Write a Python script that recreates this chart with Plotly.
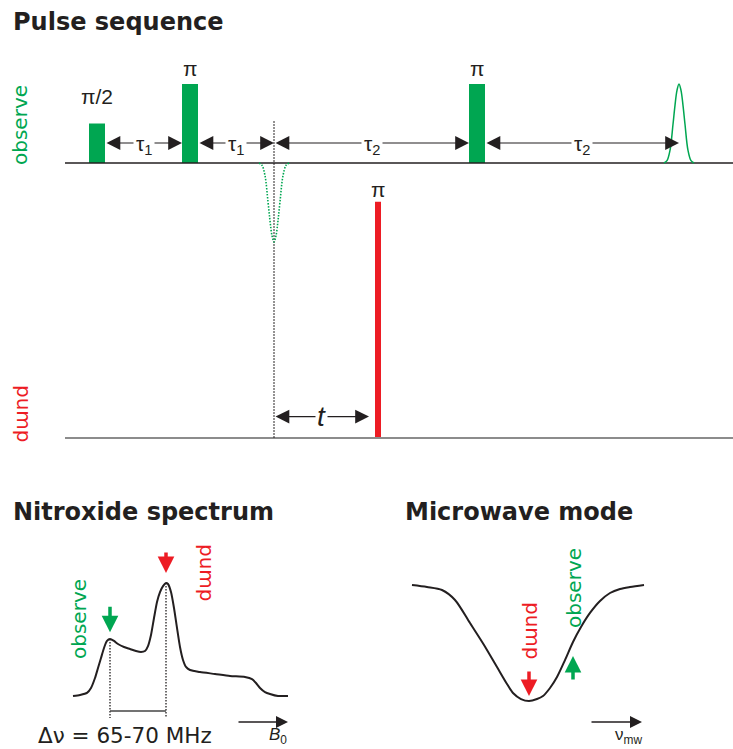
import plotly.graph_objects as go

W, H = 733, 749

GREEN = "#00A651"
RED = "#ED1C24"
INK = "#231F20"
GREY = "#8C8C8C"

# ---------------- Pulse sequence ----------------
# time in arbitrary units from the centre of the pi/2 pulse,
# amplitude in units of the observer pi pulse
obs_pulse_labels = ["π/2", "π", "π"]
obs_pulse_times = [0, 93, 380]
obs_pulse_amps = [0.5, 1.0, 1.0]
obs_pulse_width = 16
refocus_time = 177
pump_pulse_label = "π"
pump_pulse_time = 281
pump_pulse_amp = 2.99
pump_pulse_width = 6
echo_time = 582
echo_offsets = [-15, -12, -9, -6, -4, -2, 0, 2, 4, 6, 9, 12, 15]
echo_shape = [0, 0.03, 0.16, 0.49, 0.73, 0.92, 1.0, 0.92, 0.73, 0.49, 0.16, 0.03, 0]
seq_start, seq_end = -32, 636
delay_labels = ["τ<sub>1</sub>", "τ<sub>1</sub>", "τ<sub>2</sub>", "τ<sub>2</sub>"]
dipolar_label = "<i>t</i>"

# ---------------- Nitroxide spectrum ----------------
field = [0, 7, 14, 18, 22, 25, 28, 31, 34, 37, 41, 45, 51, 57, 63, 68, 72, 75,
         78, 81, 84, 87, 90, 93, 95, 98, 101, 104, 107, 110, 113, 117, 127, 142,
         157, 172, 179, 183, 187, 192, 197, 205, 215]
absorption = [0, 0.009, 0.027, 0.071, 0.159, 0.248, 0.336, 0.425, 0.487, 0.504,
              0.487, 0.460, 0.434, 0.416, 0.398, 0.389, 0.398, 0.442, 0.540,
              0.690, 0.832, 0.920, 0.973, 1.0, 0.991, 0.920, 0.779, 0.602, 0.434,
              0.319, 0.257, 0.230, 0.212, 0.195, 0.177, 0.168, 0.150, 0.115,
              0.071, 0.035, 0.018, 0.0, 0.0]
observe_field = 37
pump_field = 93
delta_nu_label = "Δν = 65-70 MHz"

# ---------------- Microwave mode ----------------
mw_offset = [-117, -102, -87, -74, -59, -45, -32, -22, -16, -8, 0, 8, 14, 21,
             28, 36, 44, 52, 61, 71, 81, 91, 101, 115]
mode_reflection = [1.0, 0.983, 0.957, 0.871, 0.672, 0.483, 0.293, 0.147, 0.069,
                   0.017, 0.0, 0.017, 0.043, 0.112, 0.207, 0.353, 0.509, 0.638,
                   0.759, 0.862, 0.931, 0.966, 0.983, 1.0]
mode_pump = 0
mode_observe = 44


def x_span(v0, p0, ppu):
    lo = v0 - p0 / ppu
    return [lo, lo + W / ppu]


def y_span(v0, p0, ppu):
    hi = v0 + p0 / ppu
    return [hi - H / ppu, hi]


def px(p):
    return p / W


def py(p):
    return 1 - p / H


pump_baseline = -3.48
arrow_level = 0.253
DOTS = "1.5px,1.5px"

fig = go.Figure()

# channel baselines
fig.add_trace(go.Scatter(x=[seq_start, seq_end], y=[0, 0], mode="lines",
                         line=dict(color=INK, width=1.3)))
fig.add_trace(go.Scatter(x=[seq_start, seq_end], y=[pump_baseline] * 2, mode="lines",
                         line=dict(color=GREY, width=2)))

# refocused-echo time marker
fig.add_trace(go.Scatter(x=[refocus_time] * 2, y=[0.53, pump_baseline], mode="lines",
                         line=dict(color=INK, width=1.3, dash=DOTS)))

# virtual (refocused) echo, drawn dotted and inverted
fig.add_trace(go.Scatter(x=[refocus_time + o for o in echo_offsets],
                         y=[-v for v in echo_shape], mode="lines",
                         line=dict(color=GREEN, width=1.6, dash=DOTS, shape="spline")))
# detected echo
fig.add_trace(go.Scatter(x=[echo_time + o for o in echo_offsets], y=echo_shape,
                         mode="lines", line=dict(color=GREEN, width=1.5, shape="spline")))

# observer pulses
fig.add_trace(go.Bar(x=obs_pulse_times, y=obs_pulse_amps, width=obs_pulse_width,
                     marker=dict(color=GREEN, line=dict(width=0))))
# pump pulse
fig.add_trace(go.Bar(x=[pump_pulse_time], y=[pump_pulse_amp], base=[pump_baseline],
                     width=pump_pulse_width, marker=dict(color=RED, line=dict(width=0))))

# ---- spectrum
fig.add_trace(go.Scatter(x=field, y=absorption, mode="lines", xaxis="x2", yaxis="y2",
                         line=dict(color=INK, width=2, shape="spline", smoothing=0.6)))
peak_obs = absorption[field.index(observe_field)]
peak_pump = absorption[field.index(pump_field)]
for f, a in [(observe_field, peak_obs), (pump_field, peak_pump)]:
    fig.add_trace(go.Scatter(x=[f, f], y=[a, -0.195], mode="lines", xaxis="x2", yaxis="y2",
                             line=dict(color=INK, width=1.3, dash=DOTS)))
fig.add_trace(go.Scatter(x=[observe_field, pump_field], y=[-0.133, -0.133], mode="lines",
                         xaxis="x2", yaxis="y2", line=dict(color="#444444", width=1.5)))

# ---- microwave mode
fig.add_trace(go.Scatter(x=mw_offset, y=mode_reflection, mode="lines", xaxis="x3", yaxis="y3",
                         line=dict(color=INK, width=2, shape="spline", smoothing=0.8)))

ann = []

# pulse labels
lifts = [27, 16, 16]
for t, a, lab, lift in zip(obs_pulse_times, obs_pulse_amps, obs_pulse_labels, lifts):
    ann.append(dict(x=t, y=a, xref="x", yref="y", text=lab, showarrow=False,
                    yanchor="middle", yshift=lift,
                    font=dict(family="Liberation Sans", size=21, color=INK)))
ann.append(dict(x=pump_pulse_time, y=pump_baseline + pump_pulse_amp, xref="x", yref="y",
                text=pump_pulse_label, showarrow=False, yanchor="middle", yshift=12,
                font=dict(family="Liberation Sans", size=21, color=INK)))

# delay arrows
half = obs_pulse_width / 2
spans = [
    (obs_pulse_times[0] + half, obs_pulse_times[1] - half),
    (obs_pulse_times[1] + half, refocus_time),
    (refocus_time, obs_pulse_times[2] - half),
    (obs_pulse_times[2] + half, echo_time),
]


def dbl_arrow(x0, x1, y, xr="x", yr="y"):
    return dict(x=x1, y=y, ax=x0, ay=y, xref=xr, yref=yr, axref=xr, ayref=yr,
                text="", showarrow=True, arrowside="end+start",
                arrowhead=2, startarrowhead=2, arrowsize=2.3, startarrowsize=2.3,
                arrowwidth=1.2, arrowcolor=INK, standoff=0, startstandoff=0)


for (x0, x1), lab in zip(spans, delay_labels):
    ann.append(dbl_arrow(x0, x1, arrow_level))
for (x0, x1), lab in zip(spans, delay_labels):
    ann.append(dict(x=(x0 + x1) / 2, y=arrow_level, xref="x", yref="y", text=lab,
                    showarrow=False, bgcolor="white", borderpad=2, yshift=-2,
                    font=dict(family="Liberation Sans", size=21, color=INK)))

t_level = pump_baseline + 0.27
t_span = (refocus_time, pump_pulse_time - pump_pulse_width / 2 - 6)
ann.append(dbl_arrow(t_span[0], t_span[1], t_level))
ann.append(dict(x=sum(t_span) / 2, y=t_level, xref="x", yref="y", text=dipolar_label,
                showarrow=False, bgcolor="white", borderpad=1,
                font=dict(family="Liberation Sans", size=28, color=INK)))


def thick_arrow(x, y_tail, y_tip, color, xr, yr):
    return dict(x=x, y=y_tip, ax=x, ay=y_tail, xref=xr, yref=yr, axref=xr, ayref=yr,
                text="", showarrow=True, arrowhead=2, arrowsize=0.95, arrowwidth=3.5,
                arrowcolor=color, standoff=0)


# spectrum arrows
ann.append(thick_arrow(observe_field, peak_obs + 0.30, peak_obs + 0.06, GREEN, "x2", "y2"))
ann.append(thick_arrow(pump_field, peak_pump + 0.283, peak_pump + 0.088, RED, "x2", "y2"))
ann.append(dict(x=215, y=-0.23, ax=164, ay=-0.23, xref="x2", yref="y2", axref="x2",
                ayref="y2", text="", showarrow=True, arrowhead=2, arrowsize=1.6,
                arrowwidth=1.5, arrowcolor=INK, standoff=0))

# mode arrows
ann.append(thick_arrow(mode_pump, 0.267, 0.043, RED, "x3", "y3"))
ann.append(thick_arrow(mode_observe, 0.172, 0.388, GREEN, "x3", "y3"))
ann.append(dict(x=113, y=-0.181, ax=61, ay=-0.181, xref="x3", yref="y3", axref="x3",
                ayref="y3", text="", showarrow=True, arrowhead=2, arrowsize=1.6,
                arrowwidth=1.5, arrowcolor=INK, standoff=0))


def text(x, y, s, size, color=INK, family="DejaVu Sans", angle=0, xanchor="center",
         yanchor="middle"):
    return dict(x=px(x), y=py(y), xref="paper", yref="paper", text=s, showarrow=False,
                xanchor=xanchor, yanchor=yanchor, textangle=angle,
                font=dict(family=family, size=size, color=color))


# headings
ann.append(text(11, 22, "<b>Pulse sequence</b>", 24, xanchor="left"))
ann.append(text(11, 512, "<b>Nitroxide spectrum</b>", 24, xanchor="left"))
ann.append(text(403, 512, "<b>Microwave mode</b>", 24, xanchor="left"))

# channel / position labels
ann.append(text(20, 125, "observe", 20, GREEN, angle=-90))
ann.append(text(24, 414, "pump", 20, RED, angle=90))
ann.append(text(79, 619, "observe", 20, GREEN, angle=-90))
ann.append(text(207, 573, "pump", 20, RED, angle=90))
ann.append(text(533, 631, "pump", 20, RED, angle=90))
ann.append(text(574, 588, "observe", 20, GREEN, angle=-90))

ann.append(text(36, 735, delta_nu_label, 21.5, xanchor="left"))
ann.append(text(278, 749, "<i>B</i><sub>0</sub>", 17, family="Liberation Sans",
                yanchor="bottom"))
ann.append(text(628, 749, "ν<sub>mw</sub>", 17, family="Liberation Sans",
                yanchor="bottom"))

axis_common = dict(visible=False, showgrid=False, zeroline=False, fixedrange=True,
                   domain=[0, 1])

fig.update_layout(
    width=W, height=H, margin=dict(l=0, r=0, t=0, b=0),
    paper_bgcolor="white", plot_bgcolor="white", showlegend=False,
    barmode="overlay", annotations=ann,
    xaxis=dict(range=x_span(0, 97, 1), **axis_common),
    yaxis=dict(range=y_span(0, 163, 79), **axis_common),
    xaxis2=dict(range=x_span(0, 73, 1), overlaying="x", anchor="y2", **axis_common),
    yaxis2=dict(range=y_span(0, 696, 113), overlaying="y", anchor="x2", **axis_common),
    xaxis3=dict(range=x_span(0, 529, 1), overlaying="x", anchor="y3", **axis_common),
    yaxis3=dict(range=y_span(0, 701, 116), overlaying="y", anchor="x3", **axis_common),
)

fig.write_html("out.html")
